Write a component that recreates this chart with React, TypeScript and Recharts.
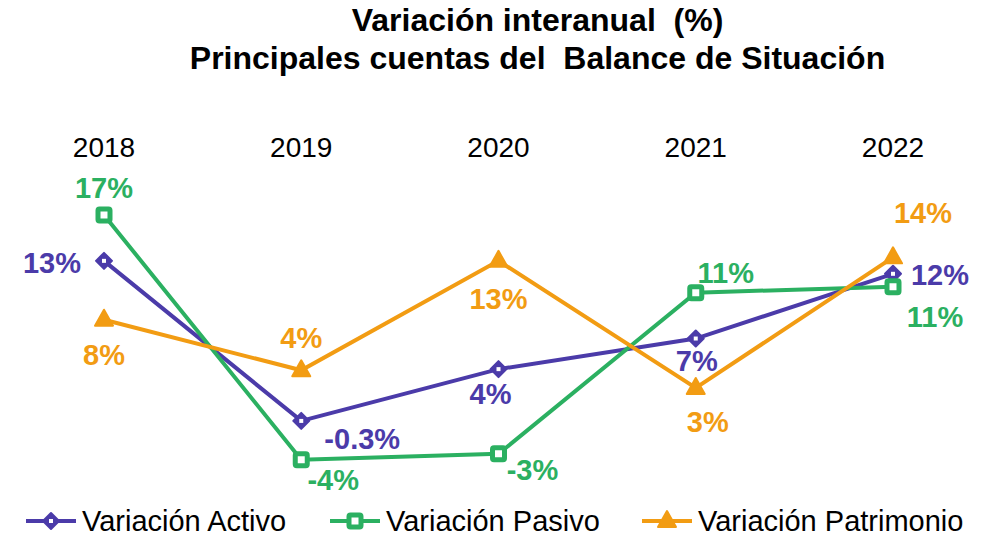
import React from 'react';
import { LineChart, Line, XAxis, YAxis, Legend, LabelList } from 'recharts';

const years = ['2018', '2019', '2020', '2021', '2022'];
const activo = [13.3, -0.3, 4.1, 6.7, 12.2];
const pasivo = [17.2, -3.6, -3.1, 10.6, 11.1];
const patrimonio = [8.3, 4.0, 13.3, 2.5, 13.6];

const data = years.map((year, i) => ({
  year,
  activo: activo[i],
  pasivo: pasivo[i],
  patrimonio: patrimonio[i],
}));

const PURPLE = '#4B3BA9';
const GREEN = '#2BB061';
const ORANGE = '#F29C13';
const FONT = '"Liberation Sans", Arial, sans-serif';

// label offsets (dx, dy) relative to each point, per series
const activoOffsets = [[-52, 2], [61, 18], [-8, 25], [1, 22], [47, 1]];
const pasivoOffsets = [[0, -27], [32, 20], [34, 16], [30, -20], [42, 30]];
const patrimonioOffsets = [[0, 35], [0, -32], [0, 38], [12, 34], [30, -44]];

const fmt = (v: number) => (Math.abs(v) < 1 ? v.toFixed(1) : Math.round(v).toString()) + '%';

const makeLabel = (color: string, offsets: number[][]) => (props: any) => {
  const { x, y, value, index } = props;
  const [dx, dy] = offsets[index] || [0, 0];
  return (
    <text
      x={x + dx}
      y={y + dy}
      textAnchor="middle"
      dominantBaseline="central"
      fill={color}
      fontFamily={FONT}
      fontWeight="bold"
      fontSize={29}
    >
      {fmt(value)}
    </text>
  );
};

const Diamond = ({ cx, cy, color }: any) => (
  <g>
    <polygon points={`${cx},${cy - 8} ${cx + 8},${cy} ${cx},${cy + 8} ${cx - 8},${cy}`} fill={color} stroke={color} strokeWidth={2} strokeLinejoin="round" />
    <rect x={cx - 2} y={cy - 2} width={4} height={4} fill="#fff" />
  </g>
);

const Square = ({ cx, cy, color }: any) => (
  <rect x={cx - 6} y={cy - 6} width={12} height={12} rx={1.5} fill="#fff" stroke={color} strokeWidth={5} />
);

const Triangle = ({ cx, cy, color }: any) => (
  <polygon points={`${cx},${cy - 10} ${cx + 9},${cy + 6} ${cx - 9},${cy + 6}`} fill={color} stroke={color} strokeWidth={2} strokeLinejoin="round" />
);

const YearTick = (props: any) => {
  const { x, y, payload } = props;
  return (
    <text x={x} y={y - 27} textAnchor="middle" dominantBaseline="central" fill="#000" fontFamily={FONT} fontSize={28}>
      {payload.value}
    </text>
  );
};

const legendItems = [
  { name: 'Variación Activo', color: PURPLE, Marker: Diamond, x: 26 },
  { name: 'Variación Pasivo', color: GREEN, Marker: Square, x: 330 },
  { name: 'Variación Patrimonio', color: ORANGE, Marker: Triangle, x: 642 },
];

const CustomLegend = () => (
  <svg width={1003} height={30} style={{ display: 'block' }}>
    {legendItems.map(({ name, color, Marker, x }) => (
      <g key={name}>
        <line x1={x} y1={15} x2={x + 50} y2={15} stroke={color} strokeWidth={4} />
        <Marker cx={x + 25} cy={15} color={color} />
        <text x={x + 56} y={15} dominantBaseline="central" fill="#000" fontFamily={FONT} fontSize={29}>
          {name}
        </text>
      </g>
    ))}
  </svg>
);

export default function App() {
  return (
    <div style={{ position: 'absolute', left: 0, top: 0, width: 1003, height: 536, background: '#fff' }}>
      <div
        style={{
          position: 'absolute',
          left: 0,
          top: 1,
          width: 1003,
          textAlign: 'center',
          fontFamily: FONT,
          fontWeight: 'bold',
          fontSize: 32,
          lineHeight: '38px',
          paddingLeft: 72,
          boxSizing: 'border-box',
        }}
      >
        Variación interanual&nbsp; (%)
        <br />
        Principales cuentas del&nbsp; Balance de Situación
      </div>
      <LineChart
        width={1003}
        height={536}
        data={data}
        margin={{ top: 152, right: 110, bottom: 18, left: 104 }}
      >
        <XAxis
          dataKey="year"
          orientation="top"
          height={30}
          axisLine={false}
          tickLine={false}
          tick={<YearTick />}
          interval={0}
        />
        <YAxis hide domain={[-6, 20]} />
        <Legend verticalAlign="bottom" content={<CustomLegend />} wrapperStyle={{ left: 0, bottom: 0 }} />
        <Line
          dataKey="activo"
          stroke={PURPLE}
          strokeWidth={4}
          isAnimationActive={false}
          dot={(p: any) => <Diamond key={p.index} cx={p.cx} cy={p.cy} color={PURPLE} />}
        >
          <LabelList dataKey="activo" content={makeLabel(PURPLE, activoOffsets)} />
        </Line>
        <Line
          dataKey="pasivo"
          stroke={GREEN}
          strokeWidth={4}
          isAnimationActive={false}
          dot={(p: any) => <Square key={p.index} cx={p.cx} cy={p.cy} color={GREEN} />}
        >
          <LabelList dataKey="pasivo" content={makeLabel(GREEN, pasivoOffsets)} />
        </Line>
        <Line
          dataKey="patrimonio"
          stroke={ORANGE}
          strokeWidth={4}
          isAnimationActive={false}
          dot={(p: any) => <Triangle key={p.index} cx={p.cx} cy={p.cy} color={ORANGE} />}
        >
          <LabelList dataKey="patrimonio" content={makeLabel(ORANGE, patrimonioOffsets)} />
        </Line>
      </LineChart>
    </div>
  );
}
